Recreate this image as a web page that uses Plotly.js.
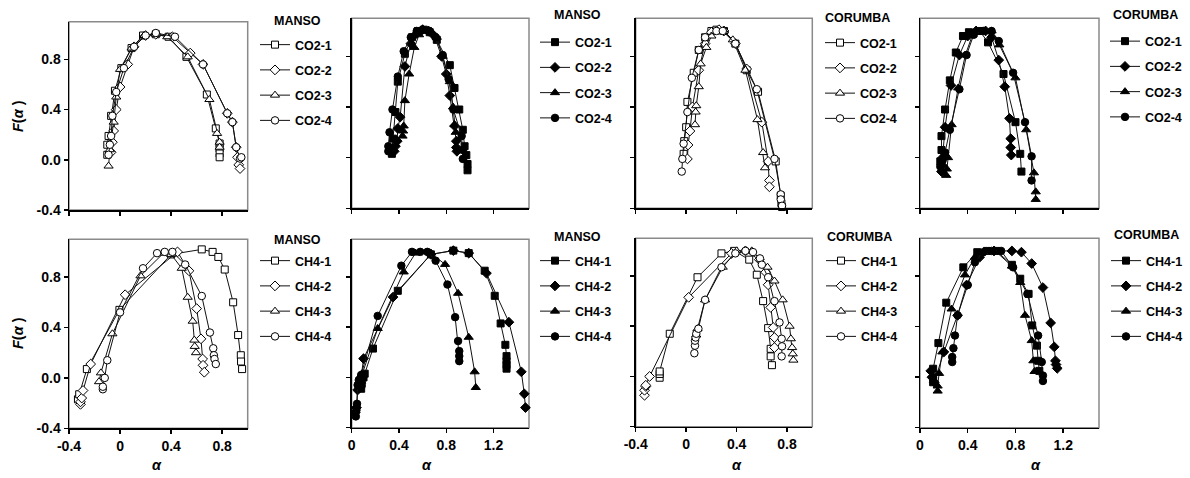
<!DOCTYPE html>
<html><head><meta charset="utf-8">
<script src="https://cdn.plot.ly/plotly-3.0.1.min.js"></script>
<style>html,body{margin:0;padding:0;background:#fff}#chart{width:1190px;height:478px}</style>
</head><body><div id="chart"></div><script>
// ---------------- DATA ----------------
const co2Names = ['CO2-1','CO2-2','CO2-3','CO2-4'];
const ch4Names = ['CH4-1','CH4-2','CH4-3','CH4-4'];
const panelTitles = ['MANSO','MANSO','CORUMBA','CORUMBA','MANSO','MANSO','CORUMBA','CORUMBA'];
const xTicksNeg = [-0.4, 0, 0.4, 0.8];
const xTickTextNeg = ['-0.4','0','0.4','0.8'];
const xTicksPos = [0, 0.4, 0.8, 1.2];
const xTickTextPos = ['0','0.4','0.8','1.2'];
const yTicks = [-0.4, 0, 0.4, 0.8];
const yTickText = ['-0.4','0.0','0.4','0.8'];

// Panel 1: MANSO CO2 (open markers)
const p1s1a = [-0.10,-0.10,-0.09,-0.07,-0.04,0.01,0.09,0.18,0.28,0.38,0.52,0.68,0.75,0.78,0.78,0.78,0.78];
const p1s1f = [0.04,0.12,0.19,0.35,0.55,0.73,0.89,0.99,1.00,0.98,0.82,0.52,0.25,0.13,0.09,0.05,0.02];
const p1s2a = [-0.07,-0.06,-0.05,-0.03,0.00,0.06,0.11,0.20,0.28,0.41,0.55,0.65,0.84,0.88,0.91,0.92,0.93,0.94];
const p1s2f = [0.06,0.14,0.23,0.40,0.58,0.76,0.90,0.99,1.00,0.98,0.85,0.76,0.37,0.30,0.10,0.02,-0.04,-0.07];
const p1s3a = [-0.09,-0.08,-0.05,-0.03,0.00,0.09,0.19,0.28,0.37,0.53,0.70,0.76,0.78,0.78];
const p1s3f = [-0.05,0.08,0.30,0.50,0.72,0.89,0.99,1.00,0.98,0.82,0.48,0.21,0.14,0.10];
const p1s4a = [-0.09,-0.08,-0.07,-0.06,-0.03,0.03,0.11,0.20,0.28,0.43,0.65,0.84,0.88,0.91,0.94,0.95];
const p1s4f = [0.04,0.12,0.19,0.35,0.54,0.73,0.90,0.99,1.01,0.98,0.76,0.37,0.30,0.10,0.01,0.02];

// Panel 2: MANSO CO2 (filled markers)
const p2s1a = [0.34,0.34,0.35,0.37,0.39,0.45,0.51,0.56,0.61,0.66,0.72,0.83,0.87,0.91,0.94,0.955,0.97,0.98,0.98];
const p2s1f = [0.03,0.07,0.15,0.36,0.60,0.82,0.95,1.00,1.01,0.99,0.93,0.73,0.55,0.38,0.22,0.09,0.02,-0.05,-0.10];
const p2s2a = [0.36,0.37,0.385,0.39,0.41,0.45,0.50,0.55,0.60,0.65,0.70,0.76,0.80,0.83,0.87,0.885,0.885,0.89];
const p2s2f = [0.05,0.09,0.13,0.23,0.32,0.72,0.90,0.98,1.01,1.00,0.96,0.80,0.66,0.49,0.25,0.13,0.08,0.05];
const p2s3a = [0.43,0.435,0.44,0.45,0.486,0.53,0.57,0.62,0.67,0.72,0.77,0.83,0.857,0.87,0.88];
const p2s3f = [0.17,0.21,0.25,0.45,0.66,0.87,0.97,1.00,1.00,0.95,0.80,0.60,0.40,0.26,0.20];
const p2s4a = [0.31,0.31,0.32,0.345,0.39,0.44,0.50,0.55,0.60,0.65,0.71,0.77,0.82,0.86,0.93,0.94,0.94];
const p2s4f = [0.05,0.09,0.20,0.38,0.64,0.84,0.95,1.00,1.01,1.00,0.95,0.81,0.62,0.38,0.17,0.06,-0.01];

// Panel 3: CORUMBA CO2 (open markers)
const p3s1a = [-0.02,-0.015,0.00,0.01,0.06,0.10,0.15,0.20,0.24,0.30,0.39,0.48,0.57,0.71,0.75,0.755,0.76];
const p3s1f = [0.03,0.13,0.24,0.44,0.67,0.85,0.95,1.00,1.01,1.00,0.90,0.69,0.52,-0.03,-0.30,-0.36,-0.39];
const p3s2a = [0.01,0.015,0.03,0.05,0.10,0.15,0.20,0.26,0.30,0.39,0.48,0.60,0.65,0.66,0.66];
const p3s2f = [-0.01,0.10,0.21,0.40,0.69,0.90,0.99,1.01,1.00,0.90,0.70,0.28,-0.03,-0.18,-0.23];
const p3s3a = [0.07,0.075,0.08,0.10,0.115,0.16,0.20,0.25,0.30,0.37,0.47,0.565,0.61,0.625];
const p3s3f = [0.26,0.36,0.41,0.56,0.74,0.87,0.96,1.00,1.00,0.93,0.69,0.30,0.04,-0.08];
const p3s4a = [-0.035,-0.03,-0.02,0.01,0.045,0.10,0.15,0.24,0.29,0.39,0.56,0.70,0.75,0.75,0.76];
const p3s4f = [-0.11,-0.01,0.11,0.36,0.63,0.85,0.95,1.00,1.00,0.90,0.54,-0.01,-0.29,-0.33,-0.38];

// Panel 4: CORUMBA CO2 (filled markers)
const p4s1a = [0.17,0.18,0.18,0.21,0.25,0.30,0.36,0.41,0.50,0.57,0.70,0.80,0.84,0.85];
const p4s1f = [-0.03,0.06,0.17,0.38,0.61,0.83,0.96,0.99,1.00,0.91,0.66,0.28,0.03,-0.11];
const p4s2a = [0.18,0.185,0.19,0.21,0.26,0.33,0.40,0.47,0.55,0.60,0.66,0.71,0.75,0.76,0.76,0.765];
const p4s2f = [-0.11,-0.06,0.00,0.24,0.57,0.81,0.96,1.00,1.00,0.95,0.77,0.56,0.31,0.15,0.08,0.02];
const p4s3a = [0.22,0.225,0.235,0.265,0.32,0.38,0.44,0.52,0.60,0.665,0.80,0.89,0.955,0.97,0.97];
const p4s3f = [-0.14,-0.09,0.00,0.26,0.55,0.81,0.97,1.00,1.00,0.89,0.63,0.22,-0.12,-0.27,-0.33];
const p4s4a = [0.17,0.19,0.21,0.25,0.33,0.39,0.45,0.53,0.60,0.66,0.78,0.88,0.935,0.935];
const p4s4f = [-0.07,-0.02,0.04,0.22,0.54,0.81,0.97,1.00,1.00,0.92,0.67,0.28,0.01,-0.18];

// Panel 5: MANSO CH4 (open markers)
const p5s1a = [-0.33,-0.32,-0.26,-0.005,0.40,0.64,0.725,0.77,0.82,0.886,0.925,0.946,0.948,0.956];
const p5s1f = [-0.17,-0.13,0.07,0.54,0.98,1.02,1.00,0.96,0.86,0.60,0.34,0.18,0.13,0.07];
const p5s2a = [-0.31,-0.31,-0.30,-0.29,-0.23,0.04,0.45,0.54,0.60,0.634,0.647,0.65,0.66];
const p5s2f = [-0.21,-0.19,-0.16,-0.10,0.11,0.66,1.00,0.85,0.55,0.31,0.15,0.10,0.045];
const p5s3a = [-0.165,-0.15,-0.06,0.16,0.34,0.40,0.483,0.53,0.569,0.582,0.585,0.595];
const p5s3f = [-0.03,0.04,0.35,0.81,0.99,0.98,0.87,0.64,0.45,0.30,0.25,0.20];
const p5s4a = [-0.135,-0.135,-0.12,-0.10,0.00,0.18,0.29,0.35,0.41,0.51,0.64,0.704,0.73,0.735,0.74,0.75];
const p5s4f = [-0.09,-0.07,0.00,0.14,0.52,0.87,0.99,1.00,1.00,0.90,0.65,0.36,0.235,0.18,0.15,0.11];

// Panel 6: MANSO CH4 (filled markers)
const p6s1a = [0.08,0.085,0.10,0.11,0.18,0.39,0.67,0.86,0.99,1.125,1.21,1.26,1.30,1.31,1.31,1.31,1.31];
const p6s1f = [-0.09,-0.05,0.00,0.03,0.23,0.69,0.98,1.01,0.99,0.85,0.65,0.43,0.26,0.17,0.13,0.10,0.07];
const p6s2a = [0.03,0.04,0.05,0.07,0.08,0.10,0.35,0.67,0.86,0.99,1.14,1.33,1.435,1.46,1.47];
const p6s2f = [-0.28,-0.24,-0.10,-0.04,0.00,0.15,0.64,0.98,1.01,0.99,0.83,0.44,0.045,-0.13,-0.24];
const p6s3a = [0.07,0.08,0.09,0.22,0.44,0.54,0.67,0.79,0.90,0.99,1.04,1.05];
const p6s3f = [-0.07,-0.03,0.03,0.39,0.84,0.99,0.99,0.90,0.67,0.32,0.045,-0.08];
const p6s4a = [0.035,0.04,0.045,0.05,0.06,0.08,0.22,0.42,0.51,0.58,0.64,0.71,0.81,0.875,0.90,0.91,0.91,0.91];
const p6s4f = [-0.31,-0.26,-0.21,-0.06,-0.02,0.02,0.49,0.89,1.00,1.00,1.00,0.93,0.74,0.48,0.29,0.21,0.17,0.13];

// Panel 7: CORUMBA CH4 (open markers)
const p7s1a = [-0.21,-0.21,-0.21,-0.13,0.09,0.28,0.38,0.50,0.56,0.61,0.65,0.67,0.67,0.68];
const p7s1f = [-0.01,0.02,0.04,0.34,0.79,0.98,1.00,0.93,0.81,0.60,0.385,0.22,0.16,0.09];
const p7s2a = [-0.33,-0.33,-0.32,-0.32,-0.29,0.02,0.36,0.47,0.58,0.63,0.65,0.67,0.69,0.70,0.70];
const p7s2f = [-0.15,-0.11,-0.08,-0.07,0.00,0.63,0.98,1.00,0.93,0.83,0.73,0.55,0.39,0.31,0.23];
const p7s3a = [0.08,0.09,0.15,0.29,0.40,0.52,0.645,0.70,0.765,0.82,0.83,0.84,0.845,0.85];
const p7s3f = [0.33,0.38,0.61,0.87,1.00,1.00,0.87,0.76,0.61,0.40,0.30,0.23,0.18,0.13];
const p7s4a = [0.065,0.07,0.07,0.075,0.08,0.097,0.15,0.28,0.39,0.47,0.53,0.585,0.60,0.65,0.70,0.74,0.757,0.76,0.757];
const p7s4f = [0.185,0.245,0.285,0.31,0.34,0.38,0.61,0.87,0.98,1.00,0.99,0.94,0.89,0.79,0.60,0.43,0.30,0.24,0.16];

// Panel 8: CORUMBA CH4 (filled markers)
const p8s1a = [0.11,0.11,0.11,0.154,0.22,0.363,0.48,0.56,0.64,0.77,0.84,0.91,0.94,0.98,0.99,1.00];
const p8s1f = [-0.04,0.00,0.067,0.27,0.59,0.87,0.99,1.00,1.00,0.89,0.78,0.66,0.41,0.25,0.13,0.05];
const p8s2a = [0.09,0.10,0.12,0.20,0.315,0.39,0.50,0.62,0.77,0.85,0.936,1.03,1.095,1.125,1.135,1.14,1.15];
const p8s2f = [0.05,0.00,-0.04,0.20,0.49,0.73,0.95,1.00,1.00,0.99,0.90,0.71,0.43,0.24,0.13,0.10,0.07];
const p8s3a = [0.148,0.148,0.16,0.187,0.265,0.377,0.46,0.63,0.77,0.84,0.88,0.936,0.95,0.96];
const p8s3f = [-0.11,-0.07,0.03,0.20,0.54,0.81,0.95,1.00,0.88,0.75,0.49,0.29,0.13,0.045];
const p8s4a = [0.27,0.27,0.28,0.293,0.315,0.40,0.46,0.53,0.60,0.68,0.78,0.90,0.99,1.02,1.03,1.03];
const p8s4f = [0.12,0.16,0.23,0.33,0.49,0.73,0.91,0.99,1.00,1.00,0.87,0.66,0.33,0.12,0.013,-0.03];

const panelSeries = [
  [[p1s1a,p1s1f],[p1s2a,p1s2f],[p1s3a,p1s3f],[p1s4a,p1s4f]],
  [[p2s1a,p2s1f],[p2s2a,p2s2f],[p2s3a,p2s3f],[p2s4a,p2s4f]],
  [[p3s1a,p3s1f],[p3s2a,p3s2f],[p3s3a,p3s3f],[p3s4a,p3s4f]],
  [[p4s1a,p4s1f],[p4s2a,p4s2f],[p4s3a,p4s3f],[p4s4a,p4s4f]],
  [[p5s1a,p5s1f],[p5s2a,p5s2f],[p5s3a,p5s3f],[p5s4a,p5s4f]],
  [[p6s1a,p6s1f],[p6s2a,p6s2f],[p6s3a,p6s3f],[p6s4a,p6s4f]],
  [[p7s1a,p7s1f],[p7s2a,p7s2f],[p7s3a,p7s3f],[p7s4a,p7s4f]],
  [[p8s1a,p8s1f],[p8s2a,p8s2f],[p8s3a,p8s3f],[p8s4a,p8s4f]]
];

// ---------------- LAYOUT / STYLE ----------------
const W = 1190, H = 478;
const FONT = 'Liberation Sans, Arial, Helvetica, sans-serif';
const geo = [
  {x0:69,    x1:247.7, y0:21.7,  y1:210,   xr:[-0.4,1.0], neg:true,  legO:255,  legC:42,   tX:272,  tY:21},
  {x0:351.7, x1:529,   y0:18.3,  y1:208.3, xr:[0,1.5],    neg:false, legO:535,  legC:39.5, tX:552,  tY:15},
  {x0:635.7, x1:812.3, y0:18.3,  y1:208.3, xr:[-0.4,1.0], neg:true,  legO:820,  legC:40,   tX:823,  tY:18},
  {x0:920,   x1:1099,  y0:18.3,  y1:208.3, xr:[0,1.5],    neg:false, legO:1105, legC:38.5, tX:1111, tY:15},
  {x0:69,    x1:247.7, y0:239.3, y1:428.3, xr:[-0.4,1.0], neg:true,  legO:255,  legC:258,  tX:272,  tY:240},
  {x0:351.7, x1:529,   y0:239.3, y1:427.7, xr:[0,1.5],    neg:false, legO:535,  legC:258,  tX:552,  tY:237},
  {x0:635.7, x1:812.3, y0:238.3, y1:426.7, xr:[-0.4,1.0], neg:true,  legO:821,  legC:258,  tX:825,  tY:237},
  {x0:920,   x1:1099,  y0:238.3, y1:427.7, xr:[0,1.5],    neg:false, legO:1106, legC:258,  tX:1112, tY:235}
];
const symbols = ['square','diamond','triangle-up','circle'];
const msize = [7, 7.5, 8, 7.5];
const LEG_TOP_OFFSET = 12;

const traces = [];
const layout = {
  width: W, height: H,
  margin: {l:0, r:0, t:0, b:0},
  paper_bgcolor: '#fff', plot_bgcolor: '#fff',
  font: {family: FONT, color: '#000', size: 12},
  annotations: [], shapes: []
};

geo.forEach((g, i) => {
  const n = i + 1;
  const xa = 'xaxis' + (n === 1 ? '' : n), ya = 'yaxis' + (n === 1 ? '' : n);
  const xid = 'x' + (n === 1 ? '' : n), yid = 'y' + (n === 1 ? '' : n);
  const bottom = i >= 4, left = (i % 4) === 0;
  const filled = (i % 2) === 1;
  const names = i < 4 ? co2Names : ch4Names;
  const legId = 'legend' + (n === 1 ? '' : n);

  layout[xa] = {
    domain: [g.x0 / W, g.x1 / W], range: g.xr, anchor: yid,
    showline: true, linecolor: '#000', linewidth: 1.5,
    ticks: 'outside', ticklen: 4, tickwidth: 1.5, tickcolor: '#000',
    tickmode: 'array', tickvals: g.neg ? xTicksNeg : xTicksPos, ticktext: g.neg ? xTickTextNeg : xTickTextPos,
    showticklabels: bottom, tickfont: {family: FONT, size: 14, color: '#000', weight: 'bold'},
    showgrid: false, zeroline: false, fixedrange: true
  };
  layout[ya] = {
    domain: [1 - g.y1 / H, 1 - g.y0 / H], range: [-0.4, 1.1], anchor: xid,
    showline: true, linecolor: '#000', linewidth: 1.5,
    ticks: 'outside', ticklen: 4, tickwidth: 1.5, tickcolor: '#000',
    tickmode: 'array', tickvals: yTicks, ticktext: yTickText,
    showticklabels: left, tickfont: {family: FONT, size: 14, color: '#000', weight: 'bold'},
    showgrid: false, zeroline: false, fixedrange: true
  };
  layout.shapes.push({type:'rect', xref: xid + ' domain', yref: yid + ' domain', x0:0, x1:1, y0:0, y1:1,
    line:{color:'#8a8a8a', width:1.5}, layer:'below'});

  layout[legId] = {
    x: g.legO / W, xanchor: 'left', y: 1 - (g.legC - LEG_TOP_OFFSET) / H, yanchor: 'top',
    bgcolor: 'rgba(0,0,0,0)', borderwidth: 0, tracegroupgap: 6,
    font: {family: FONT, size: 12.5, color: '#000', weight: 'bold'},
    itemclick: false, itemdoubleclick: false
  };
  layout.annotations.push({xref:'paper', yref:'paper', x: g.tX / W, y: 1 - g.tY / H, xanchor:'left', yanchor:'middle',
    showarrow:false, text:'<b>' + panelTitles[i] + '</b>', font:{family: FONT, size: 12.5, color:'#000'}});

  panelSeries[i].forEach((s, k) => {
    traces.push({
      type: 'scatter', mode: 'lines+markers', x: s[0], y: s[1],
      xaxis: xid, yaxis: yid, name: names[k], legend: legId, legendgroup: 'g' + n + '_' + k,
      line: {color: '#111', width: 1},
      marker: {symbol: symbols[k], size: msize[k], color: filled ? '#000' : '#fff', line: {color: '#000', width: 1}},
      cliponaxis: false, hoverinfo: 'skip'
    });
  });
});

// axis labels
const fLabelY = [116, 333];
fLabelY.forEach(y => layout.annotations.push({xref:'paper', yref:'paper', x: 18 / W, y: 1 - y / H, xanchor:'center', yanchor:'middle',
  showarrow:false, textangle:-90, text:'<b><i>F</i>(<i>α</i> )</b>', font:{family: FONT, size: 14.5, color:'#000'}}));
const aLabelX = [157, 427, 737, 1036];
aLabelX.forEach(x => layout.annotations.push({xref:'paper', yref:'paper', x: x / W, y: 1 - 465 / H, xanchor:'center', yanchor:'middle',
  showarrow:false, text:'<b><i>α</i></b>', font:{family: FONT, size: 14.5, color:'#000'}}));

Plotly.newPlot('chart', traces, layout, {staticPlot: true, displayModeBar: false});
</script></body></html>
